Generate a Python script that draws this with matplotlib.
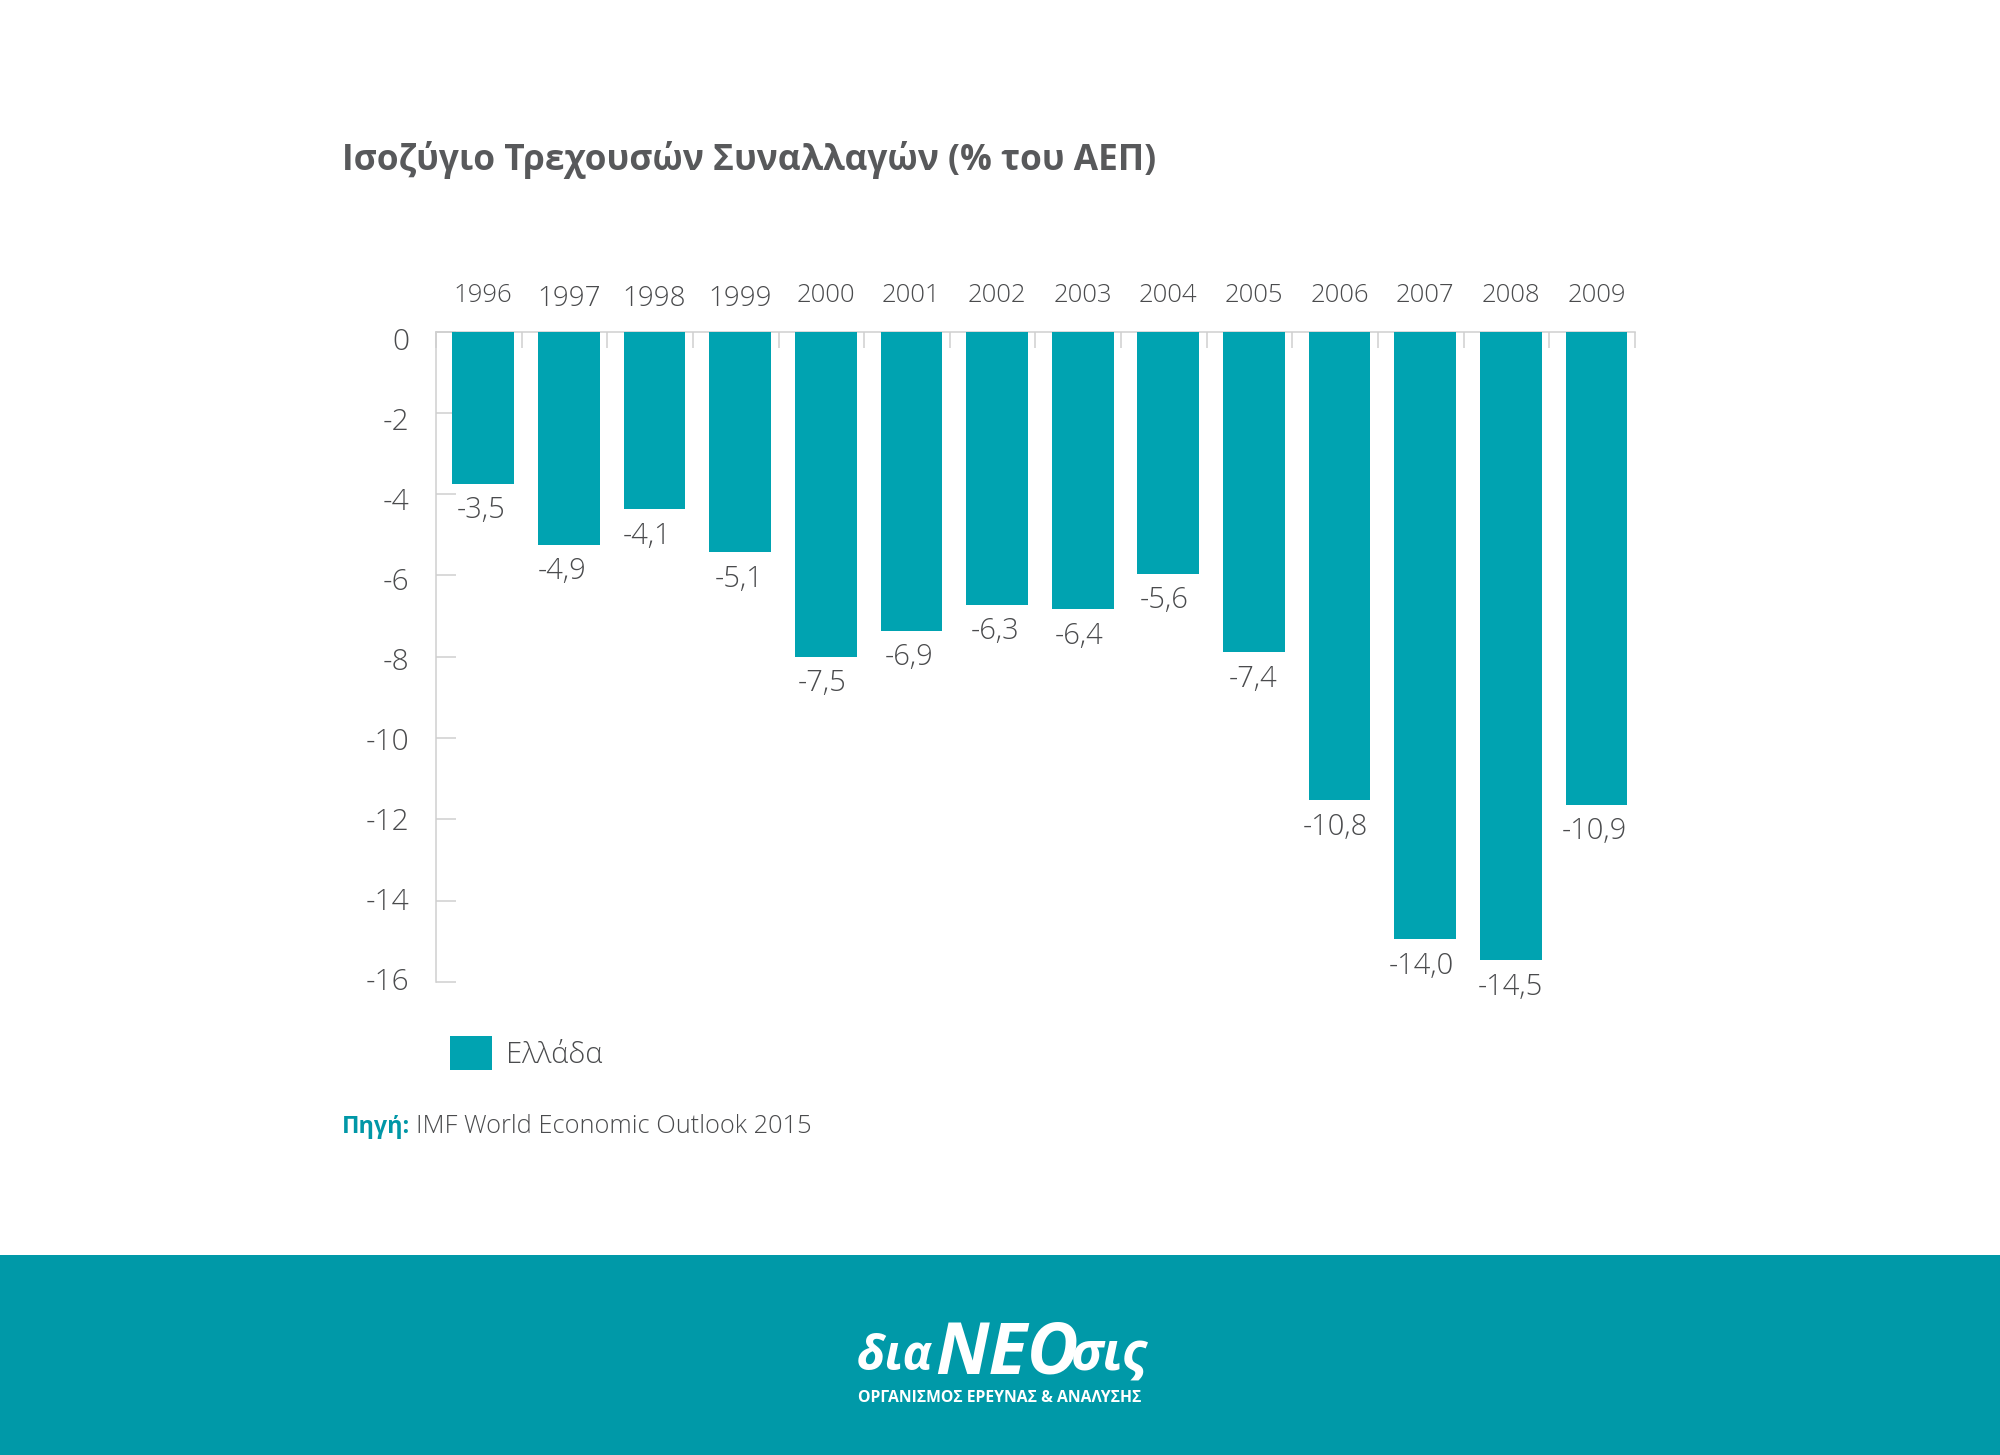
import matplotlib
matplotlib.use("Agg")
import matplotlib.pyplot as plt
from matplotlib.patches import Rectangle, Patch
from matplotlib.transforms import ScaledTranslation

# ---- data ----
years = ["1996", "1997", "1998", "1999", "2000", "2001", "2002",
         "2003", "2004", "2005", "2006", "2007", "2008", "2009"]
bar_depth = [-3.74, -5.24, -4.37, -5.43, -8.0, -7.36, -6.72,
             -6.83, -5.96, -7.89, -11.53, -14.95, -15.47, -11.64]
value_labels = ["-3,5", "-4,9", "-4,1", "-5,1", "-7,5", "-6,9", "-6,3",
                "-6,4", "-5,6", "-7,4", "-10,8", "-14,0", "-14,5", "-10,9"]
y_ticks = [0, -2, -4, -6, -8, -10, -12, -14, -16]
y_tick_labels = ["0", "-2", "-4", "-6", "-8", "-10", "-12", "-14", "-16"]

TEAL = "#00A3B1"
FOOT = "#0099A8"
GREY = "#58595B"
LIGHT_TXT = "#4A4B4D"
LINE = "#CFCFCF"
W, H = 2000, 1455
FONT = ["Open Sans", "Noto Sans", "DejaVu Sans"]
plt.rcParams["font.family"] = FONT

def px(v):
    return v * 72 / 100

fig = plt.figure(figsize=(W / 100, H / 100), dpi=100, facecolor="white")

def fx(x): return x / W
def fy(y): return 1 - y / H

fig.add_artist(Rectangle((0, 0), 1, fy(1255), transform=fig.transFigure,
                         facecolor=FOOT, edgecolor="none"))

L, R, T, B = 436, 1635, 331.5, 982
ax = fig.add_axes([fx(L), fy(B), fx(R - L), fy(T) - fy(B)])
ax.patch.set_alpha(0)
positions = list(range(len(years)))
ax.set_xlim(-0.552, 13.45)
ax.set_ylim(-16, 0)
ax.bar(positions, bar_depth, width=0.72, color=TEAL, zorder=3, label="Ελλάδα")

for s in ["right", "bottom"]:
    ax.spines[s].set_visible(False)
for s in ["left", "top"]:
    ax.spines[s].set_color(LINE)
    ax.spines[s].set_linewidth(1.1)

ax.xaxis.tick_top()
ax.set_xticks([-0.552 + k for k in range(len(years) + 1)])
ax.set_xticklabels([])
ax.tick_params(axis="x", which="major", direction="in", length=px(16), width=1.1, color=LINE)
ax.set_xticks(positions, minor=True)
ax.set_xticklabels(years, minor=True)
ax.tick_params(axis="x", which="minor", length=0, pad=px(23), labelsize=18.5, labelcolor=LIGHT_TXT)
for lab in ax.get_xticklabels(minor=True):
    lab.set_fontweight("light")
    if lab.get_text() in ("1997", "1998", "1999"):
        lab.set_fontsize(20)
        lab.set_transform(lab.get_transform()
                          + ScaledTranslation(0, -5 / 100, fig.dpi_scale_trans))

ax.set_yticks(y_ticks)
ax.set_yticklabels([])
ax.tick_params(axis="y", direction="in", length=px(20), width=1.1, color=LINE)

# tick numbers sit on their own slightly tighter scale in the reference
ax2 = ax.twinx()
ax2.patch.set_alpha(0)
ax2.set_ylim(-16.0875, 0.175)
ax2.yaxis.tick_left()
ax2.set_yticks(y_ticks)
ax2.set_yticklabels(y_tick_labels)
ax2.tick_params(axis="y", length=0, pad=px(27), labelsize=21.5, labelcolor=LIGHT_TXT)
for lab in ax2.get_yticklabels():
    lab.set_fontweight("light")
for s in ax2.spines.values():
    s.set_visible(False)

label_dx = [-2, -6.4, -7.6, -1.3, -3.2, -2, -2, -3.8, -3.8, -1.3, -3.8, -3.8, 0, -2.5]
for x, v, t, dx in zip(positions, bar_depth, value_labels, label_dx):
    ax.annotate(t, (x, v), xytext=(px(dx), px(-34.5)), textcoords="offset points",
                ha="center", va="baseline", fontsize=21, color=LIGHT_TXT,
                fontweight="light", annotation_clip=False)

legend_fs = 21
ax.legend(handles=[Patch(facecolor=TEAL, edgecolor="none", label="Ελλάδα")],
          loc="upper left", bbox_to_anchor=(fx(450), fy(1036)),
          bbox_transform=fig.transFigure, frameon=False, borderpad=0,
          borderaxespad=0, labelcolor=LIGHT_TXT,
          handlelength=1.44, handleheight=1.43, handletextpad=0.48,
          prop={"size": legend_fs, "weight": "light"})

fig.text(fx(342), fy(170), "Ισοζύγιο Τρεχουσών Συναλλαγών (% του ΑΕΠ)",
         fontsize=25.4, fontweight="bold", color=GREY, va="baseline", ha="left")
fig.text(fx(342), fy(1133), "Πηγή:", fontsize=16.8, fontweight="bold",
         color="#0097A7", va="baseline", ha="left")
fig.text(fx(416), fy(1133), "IMF World Economic Outlook 2015", fontsize=18.3,
         fontweight="light", color=LIGHT_TXT, va="baseline", ha="left")

# footer wordmark
logo = dict(color="white", fontweight="bold", fontstyle="italic", va="baseline", ha="left")
fig.text(fx(857), fy(1370), "δια", fontsize=35, **logo)
fig.text(fx(935), fy(1373), "ΝΕΟ", fontsize=51, **logo)
fig.text(fx(1071), fy(1370), "σις", fontsize=38, **logo)
fig.text(fx(858), fy(1402), "ΟΡΓΑΝΙΣΜΟΣ ΕΡΕΥΝΑΣ & ΑΝΑΛΥΣΗΣ", fontsize=11.3,
         fontweight="bold", color="white", va="baseline", ha="left")

fig.savefig("out.png", dpi=100)
